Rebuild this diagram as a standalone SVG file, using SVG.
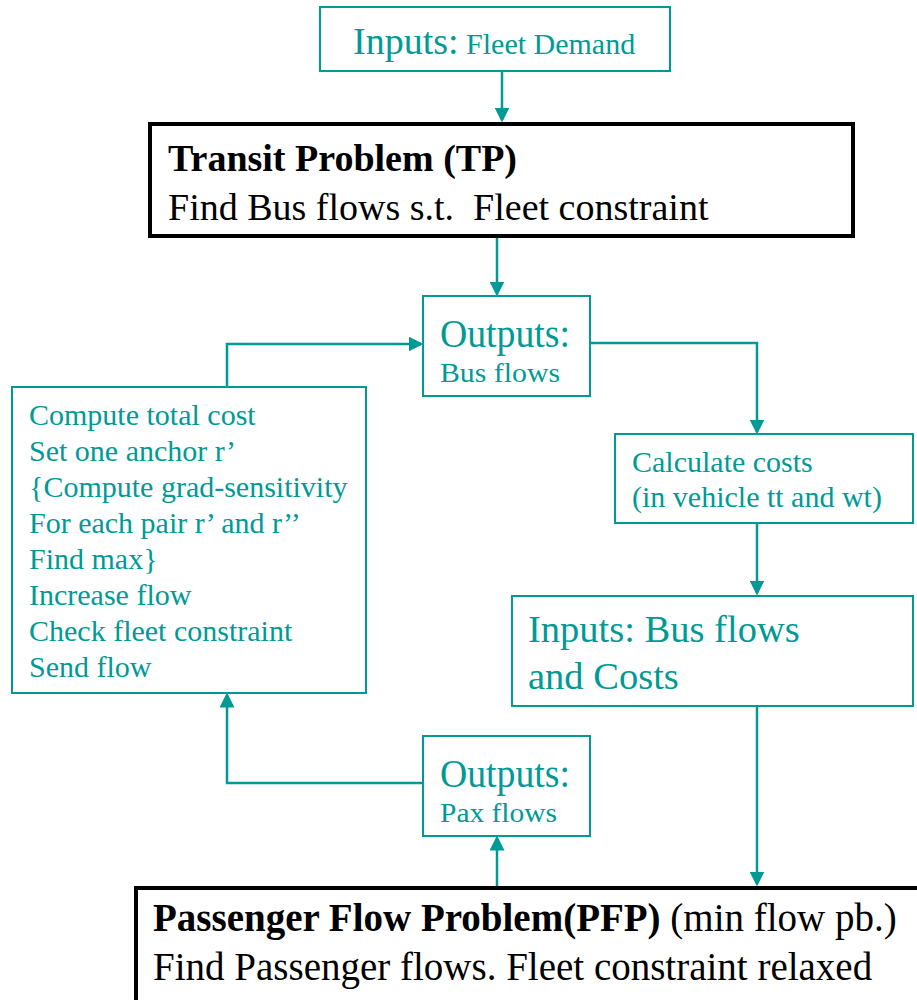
<svg xmlns="http://www.w3.org/2000/svg" width="917" height="1000" viewBox="0 0 917 1000">
<style>
text{font-family:"Liberation Serif","Times New Roman",serif;}
.t{fill:#009A96;}
.k{fill:#000;}
.tb{fill:#fff;stroke:#009A96;stroke-width:2;}
.kb{fill:#fff;stroke:#000;stroke-width:4;}
.c{fill:none;stroke:#009A96;stroke-width:2.5;}
</style>
<defs>
<marker id="ah" markerWidth="6" markerHeight="6" refX="5" refY="3" orient="auto" markerUnits="strokeWidth" viewBox="0 0 6 6">
<path d="M0,0 L6,3 L0,6 Z" fill="#009A96"/>
</marker>
</defs>
<rect width="917" height="1000" fill="#fff"/>
<g id="connectors">
<path class="c" d="M502,71 V120" marker-end="url(#ah)"/>
<path class="c" d="M497,237 V294" marker-end="url(#ah)"/>
<path class="c" d="M591,343 H757 V432" marker-end="url(#ah)"/>
<path class="c" d="M757,524 V593" marker-end="url(#ah)"/>
<path class="c" d="M757,706 V884" marker-end="url(#ah)"/>
<path class="c" d="M497,886 V838" marker-end="url(#ah)"/>
<path class="c" d="M422,783 H227 V695" marker-end="url(#ah)"/>
<path class="c" d="M227,386 V344 H421" marker-end="url(#ah)"/>
</g>
<g id="inputs-fleet">
<rect class="tb" x="320" y="7" width="350" height="64"/>
<text class="t" x="353" y="54"><tspan font-size="38">Inputs:</tspan><tspan font-size="30"> Fleet Demand</tspan></text>
</g>
<g id="tp">
<rect class="kb" x="150" y="124" width="703" height="112"/>
<text class="k" x="168" y="171" font-size="38" font-weight="bold">Transit Problem (TP)</text>
<text class="k" x="168" y="220" font-size="38" xml:space="preserve">Find Bus flows s.t.  Fleet constraint</text>
</g>
<g id="outputs-bus">
<rect class="tb" x="423" y="296" width="167" height="100"/>
<text class="t" x="440" y="347" font-size="40" textLength="130" lengthAdjust="spacingAndGlyphs">Outputs:</text>
<text class="t" x="440" y="382" font-size="28" textLength="120" lengthAdjust="spacingAndGlyphs">Bus flows</text>
</g>
<g id="calc-costs">
<rect class="tb" x="615" y="434" width="298" height="89"/>
<text class="t" x="632" y="472" font-size="30">Calculate costs</text>
<text class="t" x="632" y="507" font-size="30">(in vehicle tt and wt)</text>
</g>
<g id="inputs-bus">
<rect class="tb" x="512" y="596" width="401" height="110"/>
<text class="t" x="528" y="642" font-size="38.5">Inputs: Bus flows</text>
<text class="t" x="528" y="689" font-size="38.5">and Costs</text>
</g>
<g id="pfp">
<rect class="kb" x="136" y="888" width="790" height="120"/>
<text class="k" x="153" y="931" font-size="39"><tspan font-weight="bold">Passenger Flow Problem(PFP)</tspan> (min flow pb.)</text>
<text class="k" x="153" y="980" font-size="39">Find Passenger flows. Fleet constraint relaxed</text>
</g>
<g id="outputs-pax">
<rect class="tb" x="423" y="736" width="167" height="100"/>
<text class="t" x="440" y="787" font-size="40" textLength="130" lengthAdjust="spacingAndGlyphs">Outputs:</text>
<text class="t" x="440" y="822" font-size="28" textLength="117" lengthAdjust="spacingAndGlyphs">Pax flows</text>
</g>
<g id="algorithm">
<rect class="tb" x="12" y="387" width="354" height="306"/>
<text class="t" font-size="30">
<tspan x="29" y="425">Compute total cost</tspan>
<tspan x="29" y="461">Set one anchor r’</tspan>
<tspan x="29" y="497">{Compute grad-sensitivity</tspan>
<tspan x="29" y="533">For each pair r’ and r’’</tspan>
<tspan x="29" y="569">Find max}</tspan>
<tspan x="29" y="605">Increase flow</tspan>
<tspan x="29" y="641">Check fleet constraint</tspan>
<tspan x="29" y="677">Send flow</tspan>
</text>
</g>
</svg>
